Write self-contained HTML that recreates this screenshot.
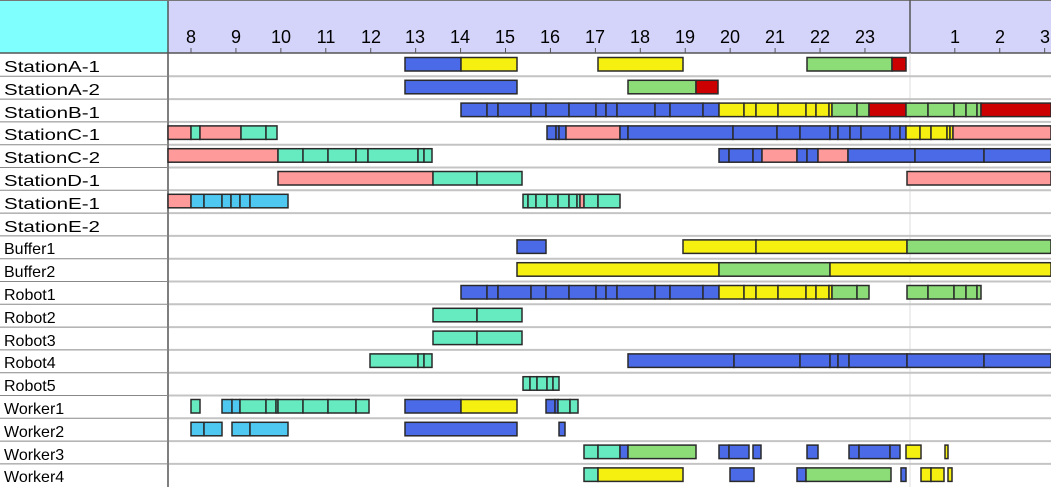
<!DOCTYPE html>
<html><head><meta charset="utf-8"><style>
html,body{margin:0;padding:0;background:#fff;width:1051px;height:487px;overflow:hidden}
svg{display:block}
text{font-family:"Liberation Sans",sans-serif}
</style></head><body>
<svg id="s" width="1051" height="487" xmlns="http://www.w3.org/2000/svg">
<rect x="0" y="0" width="1051" height="487" fill="#fff"/>
<rect x="0" y="0" width="168" height="53" fill="#80ffff"/>
<rect x="168" y="0" width="883" height="53" fill="#d4d4fa"/>
<line x1="0" y1="53" x2="1051" y2="53" stroke="#555" stroke-width="1.5"/>
<line x1="168" y1="0" x2="168" y2="487" stroke="#555" stroke-width="1.5"/>
<line x1="0" y1="0.5" x2="1051" y2="0.5" stroke="#777" stroke-width="1"/>
<line x1="910" y1="0" x2="910" y2="53" stroke="#555" stroke-width="1.5"/>
<line x1="910" y1="53" x2="910" y2="487" stroke="#ddd" stroke-width="1"/>
<g id="grid"></g>
<g font-size="18" fill="#000" text-anchor="middle">
<text x="191" y="43">8</text><text x="236" y="43">9</text><text x="281" y="43">10</text><text x="326" y="43">11</text><text x="371" y="43">12</text><text x="415" y="43">13</text><text x="460" y="43">14</text><text x="505" y="43">15</text><text x="550" y="43">16</text><text x="595" y="43">17</text><text x="640" y="43">18</text><text x="685" y="43">19</text><text x="730" y="43">20</text><text x="775" y="43">21</text><text x="820" y="43">22</text><text x="865" y="43">23</text><text x="955" y="43">1</text><text x="1000" y="43">2</text><text x="1045" y="43">3</text>
</g>
<g font-size="16" fill="#000">
<text x="4" y="72" textLength="96" lengthAdjust="spacingAndGlyphs">StationA-1</text><text x="4" y="95" textLength="96" lengthAdjust="spacingAndGlyphs">StationA-2</text><text x="4" y="118" textLength="96" lengthAdjust="spacingAndGlyphs">StationB-1</text><text x="4" y="140" textLength="96" lengthAdjust="spacingAndGlyphs">StationC-1</text><text x="4" y="163" textLength="96" lengthAdjust="spacingAndGlyphs">StationC-2</text><text x="4" y="186" textLength="96" lengthAdjust="spacingAndGlyphs">StationD-1</text><text x="4" y="209" textLength="96" lengthAdjust="spacingAndGlyphs">StationE-1</text><text x="4" y="232" textLength="96" lengthAdjust="spacingAndGlyphs">StationE-2</text><text x="4" y="254">Buffer1</text><text x="4" y="277">Buffer2</text><text x="4" y="300">Robot1</text><text x="4" y="323">Robot2</text><text x="4" y="346">Robot3</text><text x="4" y="368">Robot4</text><text x="4" y="391">Robot5</text><text x="4" y="414">Worker1</text><text x="4" y="437">Worker2</text><text x="4" y="460">Worker3</text><text x="4" y="482">Worker4</text>
</g>
<g id="bars"></g>
</svg>
<script>
(function(){
var C={b:"#4a6ae8",y:"#f5f010",g:"#8cdc78",r:"#cc0000",p:"#ff9a9a",a:"#66eac0",s:"#4ec8f0"};
function seq(c,pts){var o=[];for(var i=0;i<pts.length-1;i++)o.push([pts[i],pts[i+1],c]);return o;}
var R=[
[[405,461,"b"],[461,517,"y"],[598,683,"y"],[807,892,"g"],[892,906,"r"]],
[[405,517,"b"],[628,696,"g"],[696,718,"r"]],
[].concat(seq("b",[461,487,498,531,546,569,596,606,617,655,670,703,719]),seq("y",[719,744,756,778,806,816,829,832]),seq("g",[832,857,869]),[[869,906,"r"]],seq("g",[906,928,954,966,977,981]),[[981,1051,"r"]]),
[[168,191,"p"],[191,200,"a"],[200,241,"p"],[241,266,"a"],[266,277,"a"]].concat(seq("b",[547,556,559,566]),[[566,620,"p"]],seq("b",[620,628,733,777,800,830,838,850,861,890,900,906]),seq("y",[906,920,931,947,950,953]),[[953,1051,"p"]]),
[[168,278,"p"]].concat(seq("a",[278,303,328,356,368,418,424,432]),seq("b",[719,729,753,762]),[[762,797,"p"]],seq("b",[797,807,818]),[[818,848,"p"]],seq("b",[848,915,984,1051])),
[[278,433,"p"],[433,477,"a"],[477,522,"a"],[907,1051,"p"]],
[[168,191,"p"]].concat(seq("s",[191,204,222,231,240,250,288]),seq("a",[523,528,536,547,558,569,577,580]),[[580,584,"p"]],seq("a",[584,598,620])),
[],
[[517,546,"b"],[683,756,"y"],[756,907,"y"],[907,1051,"g"]],
[[517,719,"y"],[719,830,"g"],[830,1051,"y"]],
[].concat(seq("b",[461,487,498,531,546,569,596,606,617,655,670,703,719]),seq("y",[719,744,756,778,806,816,829,832]),seq("g",[832,857,869]),seq("g",[907,928,954,966,977,981])),
[[433,477,"a"],[477,522,"a"]],
[[433,477,"a"],[477,522,"a"]],
seq("a",[370,418,424,432]).concat(seq("b",[628,734,800,830,838,849,907,984,1051])),
seq("a",[523,530,537,547,553,559]),
[[191,200,"a"],[222,232,"s"],[232,240,"s"]].concat(seq("a",[240,266,276,278,303,328,356,369]),[[405,461,"b"],[461,517,"y"],[546,555,"b"],[555,558,"b"],[558,570,"a"],[570,578,"a"]]),
[[191,204,"s"],[204,222,"s"],[232,250,"s"],[250,288,"s"],[405,517,"b"],[559,565,"b"]],
[[584,598,"a"],[598,620,"a"],[620,628,"b"],[628,696,"g"],[719,729,"b"],[729,749,"b"],[753,761,"b"],[807,818,"b"],[849,859,"b"],[859,890,"b"],[890,900,"b"],[906,921,"y"],[945,948,"y"]],
[[584,598,"a"],[598,683,"y"],[730,754,"b"],[797,806,"b"],[806,891,"g"],[901,906,"b"],[921,931,"y"],[931,944,"y"],[948,952,"y"]]
];
var ns="http://www.w3.org/2000/svg",g=document.getElementById("bars"),gr=document.getElementById("grid");
function el(t,a,p){var e=document.createElementNS(ns,t);for(var k in a)e.setAttribute(k,a[k]);p.appendChild(e);}
for(var h=8;h<=27;h++){if(h==24)continue;var tx=191+44.93*(h-8);el("line",{x1:tx,y1:48,x2:tx,y2:53,stroke:"#555","stroke-width":1},gr);}
for(var i=0;i<19;i++){var ty=53.5+22.8*i;
 if(i>0){el("line",{x1:169,y1:ty,x2:1051,y2:ty,stroke:"#c4c4c4","stroke-width":2},gr);el("line",{x1:0,y1:ty,x2:168,y2:ty,stroke:"#888","stroke-width":1},gr);}
 R[i].forEach(function(s){el("rect",{x:s[0],y:ty+4,width:Math.max(1,s[1]-s[0]),height:13.5,fill:C[s[2]],stroke:"#2a2a2a","stroke-width":1.5},g);});
}
})();
</script>
</body></html>
